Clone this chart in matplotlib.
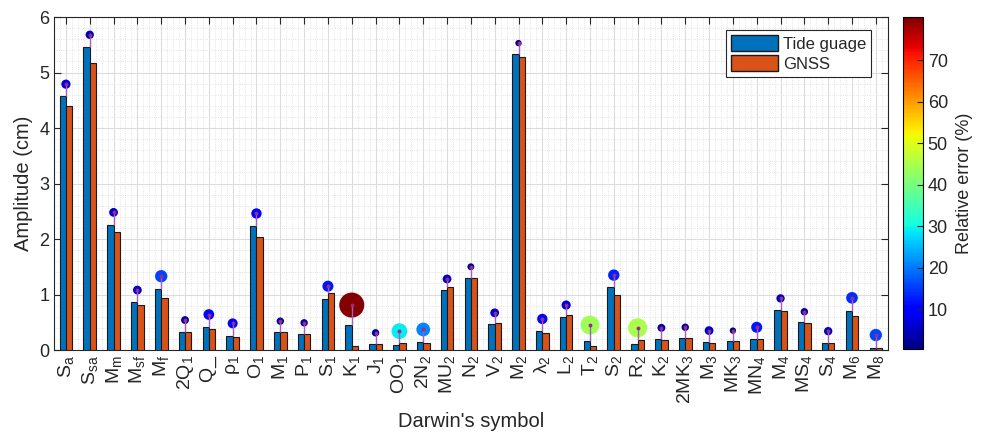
import numpy as np
import matplotlib
matplotlib.use("Agg")
import matplotlib.pyplot as plt
from matplotlib.colors import Normalize
from matplotlib.patches import Patch
from matplotlib.ticker import MultipleLocator, AutoMinorLocator

plt.rcParams.update({
    "font.family": ["Liberation Sans", "DejaVu Sans"],
    "mathtext.fontset": "custom", "mathtext.rm": "Liberation Sans",
    "mathtext.it": "Liberation Sans:italic",
    "text.color": "#262626", "axes.labelcolor": "#262626",
    "xtick.color": "#262626", "ytick.color": "#262626",
})

symbols = ["S_a", "S_{sa}", "M_m", "M_{sf}", "M_f", "2Q_1", "Q\\_", "ρ_1", "O_1", "M_1",
           "P_1", "S_1", "K_1", "J_1", "OO_1", "2N_2", "MU_2", "N_2", "V_2", "M_2",
           "λ_2", "L_2", "T_2", "S_2", "R_2", "K_2", "2MK_3", "M_3", "MK_3", "MN_4",
           "M_4", "MS_4", "S_4", "M_6", "M_8"]
tide = [4.57, 5.46, 2.25, 0.87, 1.10, 0.33, 0.41, 0.26, 2.24, 0.32,
        0.28, 0.92, 0.45, 0.10, 0.09, 0.14, 1.08, 1.29, 0.47, 5.33,
        0.34, 0.59, 0.16, 1.13, 0.11, 0.19, 0.21, 0.14, 0.16, 0.20,
        0.72, 0.50, 0.13, 0.71, 0.04]
gnss = [4.40, 5.18, 2.12, 0.82, 0.93, 0.32, 0.37, 0.23, 2.03, 0.33,
        0.29, 1.02, 0.07, 0.10, 0.12, 0.12, 1.13, 1.30, 0.48, 5.28,
        0.31, 0.63, 0.08, 0.99, 0.18, 0.18, 0.21, 0.13, 0.16, 0.19,
        0.70, 0.49, 0.12, 0.62, 0.04]
marker_y = [4.79, 5.68, 2.48, 1.08, 1.33, 0.54, 0.64, 0.48, 2.46, 0.52,
            0.49, 1.15, 0.81, 0.31, 0.34, 0.37, 1.28, 1.50, 0.67, 5.53,
            0.56, 0.81, 0.45, 1.35, 0.40, 0.40, 0.41, 0.35, 0.35, 0.41,
            0.93, 0.69, 0.34, 0.94, 0.27]
rel_err = [7, 5, 6, 6, 16, 4, 11, 9, 10, 3,
           3, 12, 80, 3, 29, 21, 6, 2, 6, 1,
           10, 7, 44, 13, 45, 4, 3, 6, 1, 12,
           5, 3, 5, 14, 16]

x = np.arange(1, len(symbols) + 1)
tide = np.array(tide); gnss = np.array(gnss)
marker_y = np.array(marker_y); rel_err = np.array(rel_err, dtype=float)

fig = plt.figure(figsize=(9.89, 4.34), dpi=100)
ax = fig.add_axes([0.0546, 0.1935, 0.843, 0.7673])
cax = fig.add_axes([0.913, 0.1958, 0.0202, 0.765])

w = 0.265
ax.bar(x - w / 2, tide, w, color="#0072BD", edgecolor="#1a1a1a", lw=0.8, zorder=3, label="Tide guage")
ax.bar(x + w / 2, gnss, w, color="#D95319", edgecolor="#1a1a1a", lw=0.8, zorder=3, label="GNSS")

norm = Normalize(vmin=0.4, vmax=80.4)
sc = ax.scatter(x, marker_y, s=17 + 3.85 * rel_err, c=rel_err, cmap="jet", norm=norm,
                edgecolors="none", zorder=4)
ax.vlines(x, np.maximum(tide, gnss), marker_y, color="#A65EC0", lw=1.0, zorder=5)
ax.plot(x, marker_y, ls="none", marker="o", ms=1.8, color="#9B2D7F", zorder=6)

ax.set_xlim(0.5, len(symbols) + 0.5)
ax.set_ylim(0, 6)
ax.set_xticks(x)
ax.set_xticklabels([rf"$\mathregular{{{s}}}$" for s in symbols], rotation=90, fontsize=14)
ax.yaxis.set_major_locator(MultipleLocator(1))
ax.yaxis.set_minor_locator(MultipleLocator(0.2))
ax.xaxis.set_minor_locator(AutoMinorLocator(4))
ax.tick_params(axis="y", labelsize=13)
ax.tick_params(which="both", direction="in", top=True, right=True, length=5)
ax.tick_params(which="minor", length=0)
ax.grid(which="major", color="#dcdcdc", lw=0.8, zorder=0)
ax.grid(which="minor", color="#dcdcdc", lw=0.6, ls=":", zorder=0)
ax.set_axisbelow(True)
for sp in ax.spines.values():
    sp.set_color("#262626"); sp.set_linewidth(0.8)
ax.set_ylabel("Amplitude (cm)", fontsize=14.5, labelpad=4)
ax.set_xlabel("Darwin's symbol", fontsize=14.5, labelpad=6)

handles = [Patch(facecolor="#0072BD", edgecolor="#1a1a1a"), Patch(facecolor="#D95319", edgecolor="#1a1a1a")]
leg = ax.legend(handles, ["Tide guage", "GNSS"], loc="upper right", fontsize=12,
                handlelength=2.8, handleheight=1.1, handletextpad=0.3, labelspacing=0.2,
                borderpad=0.3, fancybox=False, edgecolor="#262626", framealpha=1,
                bbox_to_anchor=(0.99, 0.985))
leg.get_frame().set_linewidth(0.8)

cb = fig.colorbar(sc, cax=cax)
cb.set_ticks([10, 20, 30, 40, 50, 60, 70])
cb.ax.tick_params(labelsize=13, direction="in", length=4)
cb.outline.set_linewidth(0.8)
cb.set_label("Relative error (%)", fontsize=13, labelpad=6)

fig.savefig("out.png", dpi=100)
